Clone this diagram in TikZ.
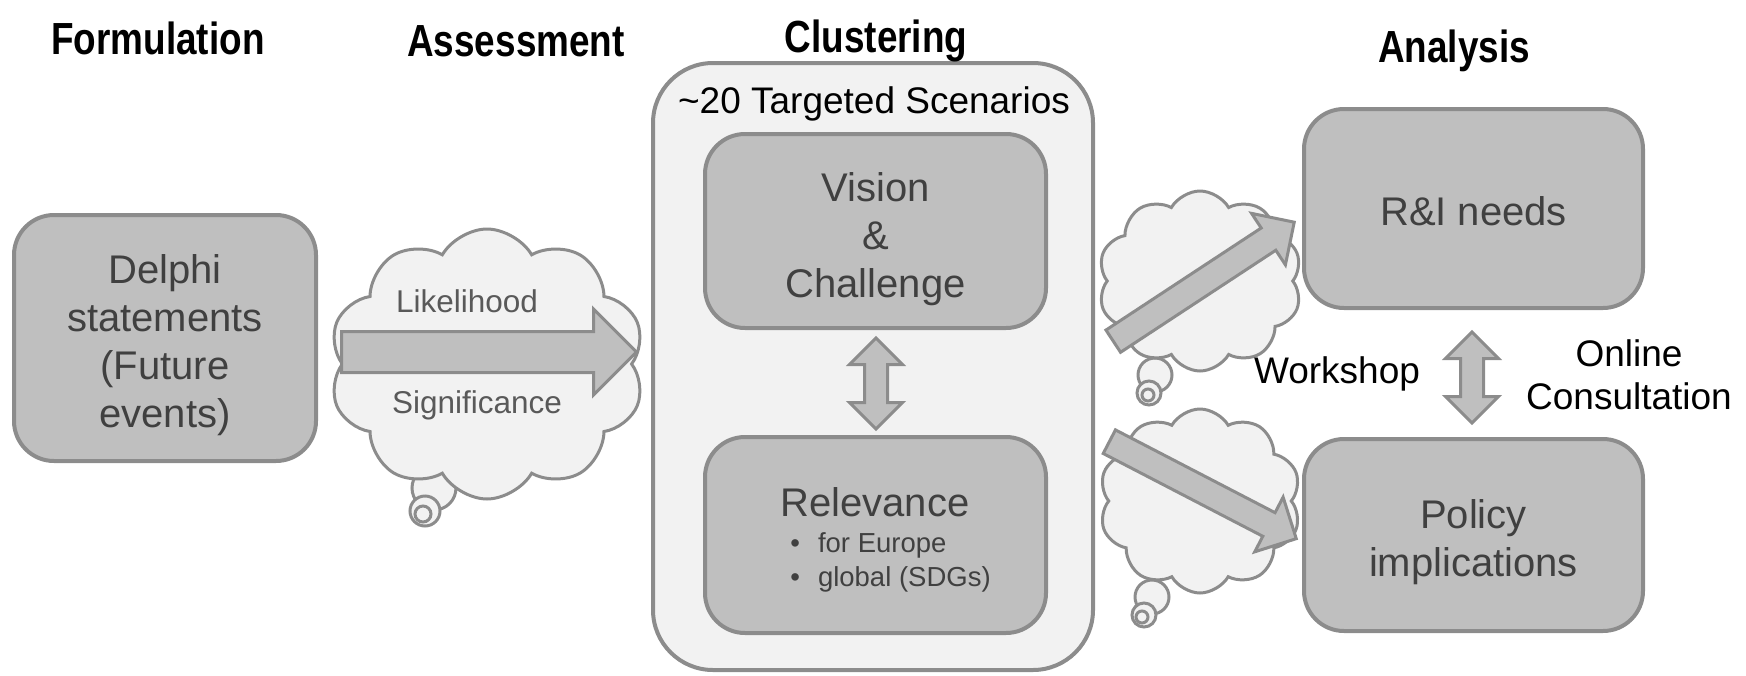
\documentclass[tikz,border=0pt]{standalone}
\usepackage{fontspec}
\setmainfont{Liberation Sans}
\usepackage{graphicx}
\usetikzlibrary{shapes.symbols}
\usetikzlibrary{shapes.arrows}
\pgfdeclarelayer{cloudlayer}
\pgfdeclarelayer{boxlayer}
\pgfsetlayers{cloudlayer,boxlayer,main}
\definecolor{boxfill}{HTML}{BFBFBF}
\definecolor{boxline}{HTML}{8C8C8C}
\definecolor{paper}{HTML}{F2F2F2}
\definecolor{boxtext}{HTML}{404040}
\definecolor{cloudtext}{HTML}{595959}
\newcommand{\narrow}[1]{\scalebox{0.82}[1]{#1}}
\tikzstyle{none}=[inner sep=0pt]
\tikzstyle{heading}=[inner sep=0pt, anchor=base, font=\fontsize{22.5}{27}\selectfont\bfseries]
\tikzstyle{plaintext}=[inner sep=0pt, anchor=base, font=\fontsize{18.5}{21.5}\selectfont]
\tikzstyle{cloudword}=[inner sep=0pt, anchor=base, text=cloudtext, font=\fontsize{15.75}{19}\selectfont]
\tikzstyle{box}=[rectangle, rounded corners=20pt, fill=boxfill, draw=boxline, line width=2pt]
\tikzstyle{boxword}=[inner sep=0pt, text=boxtext, align=center, font=\fontsize{20}{24}\selectfont]
\tikzstyle{outerbox}=[rectangle, rounded corners=30pt, fill=paper, draw=boxline, line width=2pt]
\tikzstyle{thought}=[cloud, cloud puffs=10, cloud puff arc=120, cloud ignores aspect, fill=paper, draw=boxline, line width=1.5pt, inner sep=0pt]
\tikzstyle{bubble}=[circle, fill=paper, draw=boxline, line width=1.5pt, inner sep=0pt]
\tikzstyle{fatarrow}=[single arrow, fill=boxfill, draw=boxline, line width=1.5pt, inner xsep=0pt, sloped, pos=0, anchor=tail]
\tikzstyle{twoway}=[double arrow, fill=boxfill, draw=boxline, line width=1.5pt, inner xsep=0pt, inner ysep=5pt, sloped, minimum width=26pt, double arrow head extend=7.5pt, minimum height=45.5pt]

\begin{document}
\begin{tikzpicture}[x=0.5pt, y=-0.5pt]
	\useasboundingbox (0, 0) rectangle (1746, 675);
	\begin{pgfonlayer}{cloudlayer}
		\node [style=bubble, minimum size=22pt] (20) at (434, 488) {};
		\node [style=bubble, minimum size=15pt] (21) at (425, 511) {};
		\node [style=bubble, minimum size=8pt] (22) at (423, 514) {};
		\node [style=bubble, minimum size=17pt] (23) at (1155, 375) {};
		\node [style=bubble, minimum size=12pt] (24) at (1149, 393) {};
		\node [style=bubble, minimum size=6pt] (25) at (1148, 395) {};
		\node [style=bubble, minimum size=17pt] (26) at (1152, 597) {};
		\node [style=bubble, minimum size=12pt] (27) at (1144, 615) {};
		\node [style=bubble, minimum size=6pt] (28) at (1142, 617) {};
		\node [style=thought, minimum width=158pt, minimum height=135pt] (17) at (487, 364) {};
		\node [style=thought, minimum width=102pt, minimum height=90pt] (18) at (1200, 281) {};
		\node [style=thought, minimum width=101pt, minimum height=92pt] (19) at (1200, 501) {};
	\end{pgfonlayer}
	\begin{pgfonlayer}{boxlayer}
		\node [style=box, minimum width=151pt, minimum height=123pt, label={[style=boxword, yshift=-3.5pt]center:{Delphi\\statements\\(Future\\events)}}] (4) at (165, 338) {};
		\node [style=outerbox, minimum width=220pt, minimum height=303.5pt] (5) at (873, 366.5) {};
		\node [style=box, minimum width=170.5pt, minimum height=97pt, label={[style=boxword, yshift=-4pt]center:{Vision\\\&\\Challenge}}] (6) at (875.5, 231) {};
		\node [style=box, minimum width=170.5pt, minimum height=98pt] (7) at (875.5, 535) {};
		\node [style=box, minimum width=169.5pt, minimum height=99.5pt, label={[style=boxword, yshift=-1.5pt]center:{R\&I needs}}] (8) at (1473.5, 208.5) {};
		\node [style=box, minimum width=169.5pt, minimum height=96pt, label={[style=boxword, yshift=-3.5pt]center:{Policy\\implications}}] (9) at (1473.5, 535) {};
	\end{pgfonlayer}
	\node [style=heading] (0) at (158, 54) {\narrow{Formulation}};
	\node [style=heading] (1) at (516, 56) {\narrow{Assessment}};
	\node [style=heading] (2) at (876, 52) {\narrow{Clustering}};
	\node [style=heading] (3) at (1454, 62) {\narrow{Analysis}};
	\node [style=plaintext] (10) at (874, 113) {\textasciitilde 20 Targeted Scenarios};
	\node [style=plaintext, text=boxtext, font=\fontsize{20}{24}\selectfont] (11) at (875, 516) {Relevance};
	\node [style=none, anchor=west, align=left, text=boxtext, font=\fontsize{13.75}{17}\selectfont] (12) at (790, 562) {\textbullet\hspace{9pt}for Europe\\\textbullet\hspace{9pt}global (SDGs)};
	\node [style=cloudword] (13) at (467, 312) {Likelihood};
	\node [style=cloudword] (14) at (477, 413) {Significance};
	\node [style=plaintext] (15) at (1337, 383) {Workshop};
	\node [style=none, align=center, font=\fontsize{18.5}{21.5}\selectfont] (16) at (1629, 375) {Online\\Consultation};
	\node [style=none] (30) at (340, 352) {};
	\node [style=none] (31) at (635, 352) {};
	\node [style=none] (32) at (876, 338) {};
	\node [style=none] (33) at (876, 429) {};
	\node [style=none] (34) at (1472, 332) {};
	\node [style=none] (35) at (1472, 423) {};
	\node [style=none] (36) at (1112, 342) {};
	\node [style=none] (37) at (1293, 223) {};
	\node [style=none] (38) at (1108, 441) {};
	\node [style=none] (39) at (1295, 538) {};
	\path (30.center) to node[style=fatarrow, inner ysep=9.5pt, minimum height=147.5pt, minimum width=42.5pt, single arrow head extend=11.25pt] (40) {} (31.center);
	\path (32.center) to node[style=twoway] (41) {} (33.center);
	\path (34.center) to node[style=twoway] (42) {} (35.center);
	\path (36.center) to node[style=fatarrow, inner ysep=5.9pt, minimum height=108.3pt, minimum width=30pt, single arrow head extend=8.75pt] (43) {} (37.center);
	\path (38.center) to node[style=fatarrow, inner ysep=5.9pt, minimum height=105.3pt, minimum width=30pt, single arrow head extend=8.75pt] (44) {} (39.center);
\end{tikzpicture}
\end{document}
